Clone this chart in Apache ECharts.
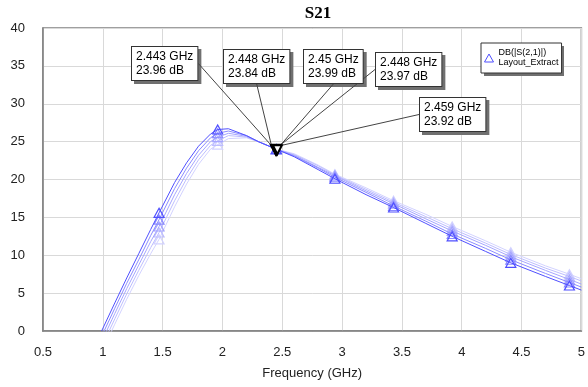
<!DOCTYPE html>
<html><head><meta charset="utf-8">
<script src="https://cdn.jsdelivr.net/npm/echarts@6/dist/echarts.min.js"></script>
<style>html,body{margin:0;padding:0;background:#fff}#c{width:588px;height:387px}</style>
</head><body><div id="c"></div>
<script>
// Frequency grid (GHz)
const freq = [0.99, 1.1, 1.2, 1.3, 1.4, 1.47, 1.6, 1.7, 1.8, 1.9, 1.96, 2.05, 2.2, 2.3, 2.45, 2.6, 2.8, 2.94, 3.2, 3.43, 3.7, 3.92, 4.2, 4.41, 4.7, 4.9, 5.0];
// Swept S21 curves (dB), s0 = darkest
const s0 = [0, 3.7, 7.0, 10.2, 13.4, 15.6, 19.6, 22.2, 24.4, 26.0, 26.6, 26.7, 25.8, 25.0, 24.0, 23.0, 21.3, 20.1, 18.0, 16.3, 14.2, 12.5, 10.5, 9.0, 7.2, 6.0, 5.4];
const s1 = [-0.7, 3.0, 6.3, 9.4, 12.6, 14.7, 18.8, 21.5, 23.8, 25.5, 26.1, 26.4, 25.8, 25.0, 24.0, 23.1, 21.5, 20.3, 18.3, 16.5, 14.5, 12.8, 10.9, 9.4, 7.6, 6.4, 5.8];
const s2 = [-1.4, 2.3, 5.6, 8.7, 11.8, 13.8, 18.0, 20.8, 23.2, 25.0, 25.6, 26.1, 25.7, 25.0, 24.0, 23.2, 21.6, 20.5, 18.5, 16.8, 14.8, 13.2, 11.3, 9.8, 8.0, 6.8, 6.2];
const s3 = [-2.1, 1.6, 4.9, 8.0, 11.0, 13.0, 17.2, 20.1, 22.6, 24.5, 25.1, 25.8, 25.6, 25.0, 24.0, 23.3, 21.8, 20.6, 18.7, 17.0, 15.1, 13.5, 11.6, 10.1, 8.3, 7.2, 6.6];
const s4 = [-2.8, 0.9, 4.2, 7.3, 10.2, 12.1, 16.4, 19.4, 22.0, 24.0, 24.6, 25.4, 25.5, 25.0, 24.0, 23.4, 21.9, 20.7, 18.9, 17.2, 15.4, 13.8, 11.9, 10.4, 8.6, 7.5, 6.9];
// Frequencies where triangle symbols are drawn
const symbolFreqs = [1.47, 1.96, 2.45, 2.94, 3.43, 3.92, 4.41, 4.9];
// Marker readouts
const mkFreq = [2.443, 2.448, 2.45, 2.448, 2.459];
const mkDb = [23.96, 23.84, 23.99, 23.97, 23.92];
const seriesName = 'DB(|S(2,1)|)';
const datasetName = 'Layout_Extract';
const titleText = 'S21';
const xName = 'Frequency (GHz)';

const curves = [s4, s3, s2, s1, s0];
const colors = ['#d2d2ff', '#bdbdff', '#a5a5ff', '#8a8aff', '#4f4fff'];
const labelPos = [[132, 47], [224, 50], [304, 50], [376, 53], [420, 98]];
const shadowGray = '#707070';
const font = '"Liberation Sans", Arial, sans-serif';
const mkText = p => p.value[0] + ' GHz\n' + p.value[1] + ' dB';
const boxLabel = {
  show: true, formatter: mkText,
  fontFamily: font, fontSize: 12, lineHeight: 14,
  borderWidth: 1, padding: [3, 4, 2, 4]
};

const series = curves.map((s, k) => ({
  type: 'line',
  name: k === curves.length - 1 ? seriesName : 'sweep' + k,
  data: freq.map((f, i) => symbolFreqs.includes(f) ? [f, s[i]] : { value: [f, s[i]], symbol: 'none' }),
  symbol: 'triangle',
  symbolSize: [10, 9],
  showAllSymbol: true,
  lineStyle: { color: colors[k], width: 1 },
  itemStyle: { color: 'rgba(0,0,0,0)', borderColor: colors[k], borderWidth: 1.2 },
  emphasis: { disabled: true },
  silent: true,
  z: 2 + k
}));

// drop shadows of the marker readout boxes
series.push({
  type: 'scatter',
  name: 'markerShadow',
  data: mkFreq.map((f, i) => [f, mkDb[i]]),
  symbolSize: 1,
  itemStyle: { color: 'rgba(0,0,0,0)', opacity: 1 },
  z: 15, silent: true, emphasis: { disabled: true },
  label: Object.assign({}, boxLabel, { color: 'rgba(0,0,0,0)', backgroundColor: shadowGray, borderColor: shadowGray }),
  labelLayout: p => ({ x: labelPos[p.dataIndex][0] + 3, y: labelPos[p.dataIndex][1] + 3, align: 'left', verticalAlign: 'top' })
});

series.push({
  type: 'scatter',
  name: 'markers',
  data: mkFreq.map((f, i) => [f, mkDb[i]]),
  symbol: 'triangle',
  symbolRotate: 180,
  symbolSize: 9,
  itemStyle: { color: '#fff', borderColor: '#000', borderWidth: 2, opacity: 1 },
  z: 20, silent: true, emphasis: { disabled: true },
  label: Object.assign({}, boxLabel, { color: '#000', backgroundColor: '#ffffff', borderColor: '#333' }),
  labelLine: { show: true, lineStyle: { color: '#444', width: 1 } },
  labelLayout: p => ({ x: labelPos[p.dataIndex][0], y: labelPos[p.dataIndex][1], align: 'left', verticalAlign: 'top' })
});

const chart = echarts.init(document.getElementById('c'), null, { renderer: 'canvas' });
chart.setOption({
  animation: false,
  backgroundColor: '#fff',
  title: {
    text: titleText, left: 313, top: 0, textAlign: 'center',
    textStyle: { fontFamily: '"Liberation Serif", "Times New Roman", serif', fontWeight: 'bold', fontSize: 17, color: '#000' }
  },
  graphic: [{
    type: 'rect', z: 3, silent: true,
    shape: { x: 484, y: 46, width: 80, height: 30 },
    style: { fill: shadowGray }
  }],
  legend: {
    left: 481, top: 43, z: 4,
    orient: 'vertical',
    data: [{ name: seriesName, icon: 'triangle', itemStyle: { color: 'rgba(0,0,0,0)', borderColor: '#4f4fff', borderWidth: 1 } }],
    formatter: n => n + '\n' + datasetName,
    itemWidth: 9, itemHeight: 8,
    padding: [5, 3, 5, 3],
    backgroundColor: '#ffffff', borderColor: '#333', borderWidth: 1,
    textStyle: { fontFamily: font, fontSize: 9, lineHeight: 10, color: '#000' },
    selectedMode: false
  },
  grid: { left: 43, right: 5, top: 28, bottom: 56, show: true, borderColor: '#808080', borderWidth: 1.5 },
  xAxis: {
    type: 'value', min: 0.5, max: 5, interval: 0.5,
    name: xName, nameLocation: 'middle', nameGap: 36,
    nameTextStyle: { fontFamily: font, fontSize: 13, color: '#222' },
    axisLine: { lineStyle: { color: '#808080', width: 1.5 } },
    axisTick: { show: false },
    axisLabel: { fontFamily: font, fontSize: 13, color: '#222', margin: 15 },
    splitLine: { lineStyle: { color: '#d9d9d9', width: 1 } }
  },
  yAxis: {
    type: 'value', min: 0, max: 40, interval: 5,
    axisLine: { show: true, lineStyle: { color: '#808080', width: 1.5 } },
    axisTick: { show: false },
    axisLabel: { fontFamily: font, fontSize: 13, color: '#222', margin: 18 },
    splitLine: { lineStyle: { color: '#d9d9d9', width: 1 } }
  },
  series: series
});
</script>
</body></html>
